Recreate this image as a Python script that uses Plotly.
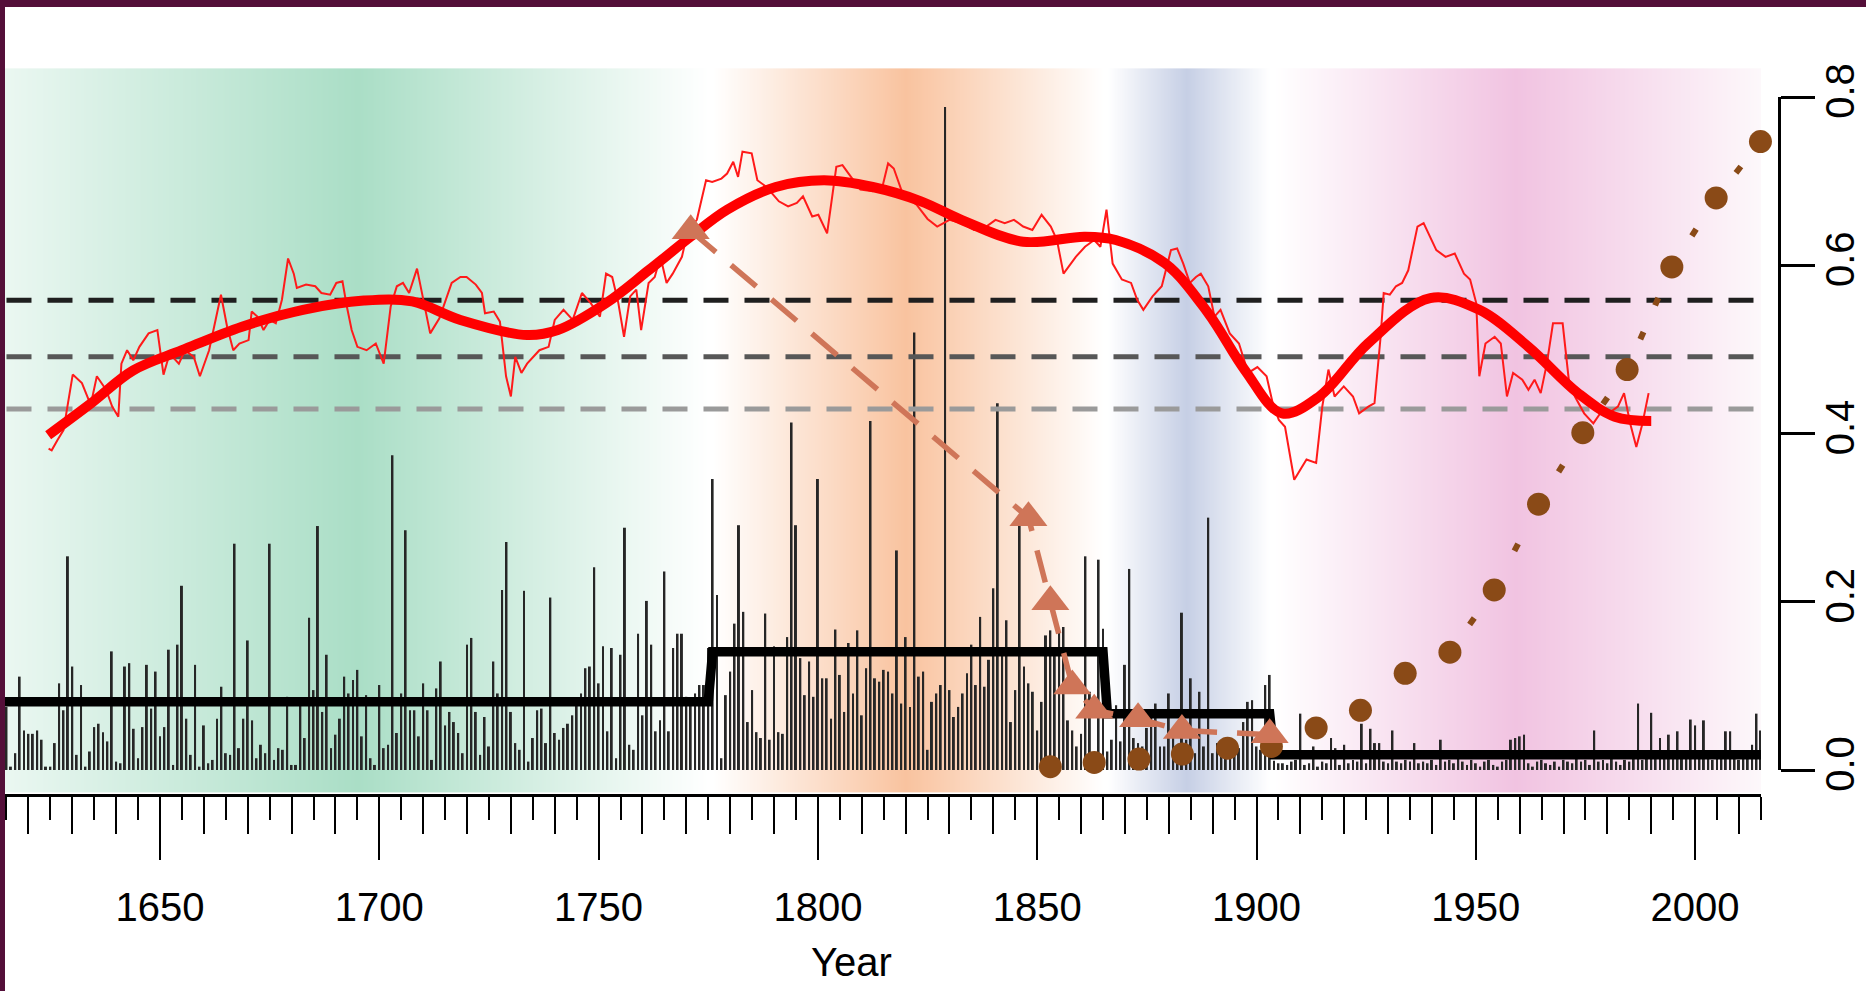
import numpy as np
import plotly.graph_objects as go

W, H = 1866, 991

# ---------------- data ----------------
years = list(range(1615, 2016))

spike_vals = [
    # 1615-1664
    0.075, 0.004, 0.020, 0.111, 0.047, 0.043, 0.043, 0.047, 0.036, 0.004,
    0.004, 0.032, 0.103, 0.071, 0.254, 0.123, 0.018, 0.101, 0.004, 0.022,
    0.051, 0.055, 0.045, 0.034, 0.141, 0.010, 0.008, 0.123, 0.127, 0.049,
    0.014, 0.051, 0.125, 0.073, 0.117, 0.040, 0.051, 0.143, 0.006, 0.149,
    0.219, 0.061, 0.018, 0.125, 0.004, 0.053, 0.008, 0.012, 0.061, 0.099,
    # 1665-1714
    0.020, 0.018, 0.269, 0.026, 0.061, 0.154, 0.059, 0.014, 0.030, 0.020,
    0.269, 0.012, 0.026, 0.024, 0.087, 0.006, 0.006, 0.083, 0.038, 0.181,
    0.095, 0.290, 0.069, 0.137, 0.026, 0.042, 0.061, 0.111, 0.091, 0.107,
    0.119, 0.040, 0.089, 0.014, 0.006, 0.101, 0.026, 0.030, 0.374, 0.044,
    0.091, 0.285, 0.071, 0.071, 0.040, 0.103, 0.071, 0.012, 0.097, 0.129,
    # 1715-1764
    0.053, 0.069, 0.057, 0.044, 0.020, 0.149, 0.157, 0.069, 0.018, 0.063,
    0.028, 0.129, 0.091, 0.214, 0.271, 0.069, 0.032, 0.024, 0.213, 0.010,
    0.038, 0.071, 0.073, 0.032, 0.205, 0.044, 0.036, 0.050, 0.055, 0.065,
    0.083, 0.091, 0.121, 0.123, 0.241, 0.103, 0.147, 0.046, 0.145, 0.014,
    0.137, 0.288, 0.030, 0.024, 0.162, 0.065, 0.201, 0.149, 0.046, 0.059,
    # 1765-1814
    0.236, 0.046, 0.145, 0.162, 0.162, 0.087, 0.085, 0.091, 0.101, 0.101,
    0.145, 0.346, 0.208, 0.014, 0.089, 0.117, 0.174, 0.291, 0.188, 0.057,
    0.095, 0.045, 0.038, 0.186, 0.036, 0.147, 0.045, 0.043, 0.158, 0.413,
    0.291, 0.133, 0.089, 0.129, 0.087, 0.346, 0.109, 0.109, 0.061, 0.167,
    0.113, 0.069, 0.151, 0.091, 0.166, 0.065, 0.121, 0.415, 0.109, 0.105,
    # 1815-1864
    0.119, 0.117, 0.091, 0.261, 0.079, 0.158, 0.075, 0.520, 0.111, 0.117,
    0.024, 0.081, 0.091, 0.101, 0.788, 0.095, 0.063, 0.075, 0.091, 0.115,
    0.149, 0.101, 0.182, 0.099, 0.131, 0.216, 0.436, 0.139, 0.178, 0.057,
    0.095, 0.300, 0.123, 0.103, 0.093, 0.047, 0.081, 0.160, 0.166, 0.143,
    0.166, 0.170, 0.059, 0.047, 0.028, 0.043, 0.254, 0.093, 0.020, 0.250,
    # 1865-1914
    0.168, 0.022, 0.036, 0.077, 0.034, 0.125, 0.239, 0.038, 0.032, 0.028,
    0.050, 0.065, 0.079, 0.028, 0.028, 0.091, 0.043, 0.026, 0.187, 0.036,
    0.109, 0.020, 0.093, 0.028, 0.300, 0.020, 0.032, 0.024, 0.020, 0.028,
    0.022, 0.026, 0.057, 0.081, 0.083, 0.028, 0.024, 0.101, 0.113, 0.011,
    0.008, 0.008, 0.006, 0.010, 0.012, 0.067, 0.006, 0.008, 0.028, 0.004,
    # 1915-1964
    0.010, 0.008, 0.038, 0.026, 0.006, 0.030, 0.008, 0.012, 0.010, 0.055,
    0.008, 0.049, 0.032, 0.032, 0.010, 0.008, 0.047, 0.010, 0.008, 0.012,
    0.010, 0.032, 0.008, 0.010, 0.008, 0.012, 0.006, 0.036, 0.010, 0.012,
    0.008, 0.014, 0.010, 0.006, 0.012, 0.008, 0.004, 0.010, 0.012, 0.006,
    0.004, 0.010, 0.012, 0.036, 0.038, 0.040, 0.042, 0.008, 0.004, 0.010,
    # 1965-2015
    0.012, 0.008, 0.006, 0.010, 0.004, 0.012, 0.010, 0.008, 0.014, 0.010,
    0.012, 0.006, 0.047, 0.010, 0.012, 0.008, 0.014, 0.010, 0.006, 0.012,
    0.010, 0.014, 0.079, 0.012, 0.016, 0.068, 0.014, 0.038, 0.016, 0.042,
    0.014, 0.046, 0.018, 0.014, 0.060, 0.053, 0.020, 0.059, 0.016, 0.012,
    0.018, 0.014, 0.046, 0.046, 0.016, 0.012, 0.018, 0.014, 0.030, 0.067,
    0.047,
]
assert len(spike_vals) == len(years)

thin_years = [
    1624.6, 1625.3, 1626.6, 1628.0, 1630.1, 1632.2, 1634.2, 1635.6, 1637.7, 1639.1,
    1640.5, 1641.2, 1642.5, 1643.9, 1645.3, 1647.4, 1649.4, 1650.8, 1652.2, 1654.3,
    1655.7, 1657.7, 1659.1, 1661.2, 1663.9, 1665.3, 1666.7, 1668.1, 1670.2, 1670.9,
    1672.2, 1673.6, 1675.0, 1676.4, 1677.8, 1679.2, 1680.5, 1681.2, 1683.3, 1685.4,
    1686.8, 1688.8, 1690.2, 1691.6, 1692.6, 1693.7, 1695.0, 1697.1, 1699.2, 1701.0,
    1702.6, 1704.0, 1705.4, 1706.8, 1708.6, 1709.6, 1711.6, 1713.7, 1716.5, 1718.5,
    1719.9, 1722.0, 1723.4, 1724.1, 1726.1, 1727.5, 1728.9, 1730.0, 1731.0, 1732.4,
    1733.7, 1736.5, 1738.6, 1740.0, 1742.0, 1744.1, 1746.2, 1748.2, 1750.3, 1751.7,
    1753.1, 1754.5, 1755.8, 1757.2, 1758.6, 1759.7, 1761.4, 1762.8, 1764.1, 1765.5,
    1766.9, 1769.0, 1770.4, 1772.4, 1774.5, 1775.9, 1778.0, 1779.3, 1780.7, 1781.8,
    1782.8, 1784.9, 1786.2, 1788.3, 1791.1, 1793.2, 1795.2, 1796.6, 1798.7, 1800.1,
    1802.1, 1804.2, 1805.6, 1807.0, 1809.7, 1812.5, 1814.6, 1816.0, 1817.3, 1819.4,
    1822.5, 1825.0, 1827.2, 1830.0, 1832.8, 1835.6, 1838.4, 1840.5, 1842.6, 1844.7,
    1846.8, 1848.9, 1851.0, 1853.1, 1854.5, 1856.0, 1858.8, 1860.9, 1863.0, 1864.4,
    1865.8, 1867.2, 1869.3, 1871.4, 1872.8, 1874.2, 1876.3, 1878.4, 1880.5, 1881.9,
    1883.3, 1884.8, 1886.2, 1887.3, 1889.0, 1890.4, 1891.8, 1893.9, 1896.0, 1898.1,
    1900.2, 1902.3, 1903.7, 1905.1, 1906.5, 1908.6, 1911.4, 1913.6, 1915.0, 1916.4,
    1917.8, 1919.9, 1922.0, 1923.4, 1925.5, 1926.9, 1928.3, 1929.0, 1930.4, 1931.8,
    1933.2, 1934.6, 1936.7, 1938.1, 1939.5, 1941.0, 1943.1, 1945.2, 1947.3, 1948.7,
    1950.1, 1950.8, 1952.2, 1954.3, 1955.7, 1957.1, 1958.5, 1960.6, 1962.0, 1963.4,
    1964.8, 1966.2, 1967.6, 1969.8, 1971.2, 1972.6, 1974.7, 1976.8, 1978.9, 1980.3,
    1982.4, 1983.8, 1985.2, 1986.6, 1988.0, 1989.4,
]
thin_vals = [
    0.382, 0.380, 0.392, 0.404, 0.470, 0.460, 0.434, 0.468, 0.452, 0.432,
    0.420, 0.483, 0.499, 0.487, 0.503, 0.519, 0.523, 0.470, 0.495, 0.483,
    0.499, 0.491, 0.468, 0.499, 0.565, 0.527, 0.499, 0.507, 0.511, 0.545,
    0.539, 0.523, 0.535, 0.531, 0.559, 0.608, 0.590, 0.573, 0.577, 0.575,
    0.567, 0.565, 0.579, 0.581, 0.551, 0.523, 0.503, 0.499, 0.507, 0.483,
    0.551, 0.575, 0.579, 0.567, 0.596, 0.571, 0.519, 0.537, 0.579, 0.586,
    0.586, 0.577, 0.567, 0.543, 0.545, 0.533, 0.468, 0.444, 0.491, 0.472,
    0.483, 0.499, 0.503, 0.535, 0.547, 0.535, 0.567, 0.555, 0.539, 0.590,
    0.586, 0.555, 0.515, 0.563, 0.571, 0.523, 0.579, 0.586, 0.610, 0.579,
    0.590, 0.610, 0.642, 0.654, 0.701, 0.699, 0.703, 0.709, 0.723, 0.705,
    0.735, 0.733, 0.701, 0.693, 0.676, 0.670, 0.674, 0.682, 0.658, 0.660,
    0.638, 0.717, 0.719, 0.709, 0.690, 0.688, 0.691, 0.721, 0.715, 0.684,
    0.672, 0.655, 0.646, 0.654, 0.650, 0.642, 0.646, 0.654, 0.650, 0.654,
    0.646, 0.642, 0.660, 0.646, 0.630, 0.590, 0.610, 0.622, 0.630, 0.622,
    0.666, 0.602, 0.583, 0.579, 0.559, 0.547, 0.563, 0.575, 0.618, 0.620,
    0.602, 0.579, 0.586, 0.590, 0.575, 0.539, 0.547, 0.519, 0.507, 0.472,
    0.479, 0.468, 0.436, 0.416, 0.408, 0.345, 0.369, 0.365, 0.432, 0.476,
    0.444, 0.456, 0.444, 0.424, 0.432, 0.436, 0.515, 0.567, 0.565, 0.575,
    0.579, 0.594, 0.646, 0.650, 0.634, 0.618, 0.610, 0.614, 0.590, 0.583,
    0.555, 0.468, 0.507, 0.515, 0.507, 0.444, 0.472, 0.464, 0.452, 0.464,
    0.448, 0.483, 0.531, 0.531, 0.464, 0.444, 0.424, 0.412, 0.428, 0.424,
    0.432, 0.448, 0.412, 0.384, 0.412, 0.448,
]

smooth_years = [
    1624.5, 1634.3, 1643.9, 1655.0, 1668.7, 1682.6, 1696.5, 1707.5, 1718.5, 1733.7,
    1740.7, 1751.7, 1761.4, 1771.0, 1779.3, 1790.4, 1801.4, 1812.5, 1823.5, 1832.7,
    1846.8, 1860.8, 1867.9, 1879.2, 1889.0, 1897.4, 1905.8, 1914.3, 1925.4, 1939.6,
    1950.8, 1962.0, 1973.3, 1981.7, 1990.0,
]
smooth_vals = [
    0.398, 0.436, 0.475, 0.499, 0.527, 0.547, 0.558, 0.557, 0.535, 0.517,
    0.523, 0.555, 0.594, 0.634, 0.666, 0.693, 0.701, 0.693, 0.676, 0.654,
    0.628, 0.634, 0.630, 0.602, 0.543, 0.475, 0.424, 0.444, 0.507, 0.561,
    0.547, 0.503, 0.448, 0.420, 0.415,
]

step_years = [1614, 1775, 1776, 1865, 1866, 1903, 1904, 2015]
step_vals = [0.081, 0.081, 0.1406, 0.1406, 0.067, 0.067, 0.018, 0.018]

ref_levels = [0.5584, 0.4913, 0.4291]

tri_years = [1771, 1848, 1853, 1858, 1863, 1873, 1883, 1903]
tri_vals = [0.641, 0.300, 0.200, 0.100, 0.071, 0.061, 0.047, 0.042]

dot_years = [1853.0, 1863.0, 1873.2, 1883.1, 1893.4, 1903.4, 1913.6, 1923.7, 1933.9,
             1944.1, 1954.2, 1964.3, 1974.4, 1984.5, 1994.7, 2004.8, 2014.9]
dot_vals = [0.004, 0.009, 0.013, 0.019, 0.026, 0.028, 0.050, 0.071, 0.115,
            0.140, 0.214, 0.316, 0.401, 0.476, 0.598, 0.680, 0.747]

# background period shading: (year, hue, strength of the hue over white)
bg_years = [1615, 1695, 1775, 1776, 1820, 1865, 1866, 1884, 1903, 1904, 1959, 2015]
bg_hues = ["#AADEC6", "#AADEC6", "#AADEC6", "#F9C39F", "#F9C39F", "#F9C39F",
           "#C6CFE5", "#C6CFE5", "#C6CFE5", "#F1C3E1", "#F1C3E1", "#F1C3E1"]
bg_strength = [0.25, 1.0, 0.0, 0.0, 1.0, 0.0, 0.0, 1.0, 0.0, 0.0, 1.0, 0.12]

x_major = [1650, 1700, 1750, 1800, 1850, 1900, 1950, 2000]
y_ticks = [0.0, 0.2, 0.4, 0.6, 0.8]

# ---------------- geometry ----------------
PX_PER_YEAR = 4.386
PX_PER_UNIT = 841.25
YEAR_AT_160 = 1650
ZERO_ROW = 770          # pixel row of value 0
LEFT_PX = 5
x_lo = YEAR_AT_160 - (160 - LEFT_PX) / PX_PER_YEAR
x_hi = 2015.0
right_px = 160 + (x_hi - YEAR_AT_160) * PX_PER_YEAR
y_lo = (ZERO_ROW - H) / PX_PER_UNIT
y_hi = ZERO_ROW / PX_PER_UNIT
AXIS_ROW = 795          # pixel row of the year axis line
RIGHT_AXIS_COL = 1779

FONT = "Liberation Sans, Arial, Helvetica, sans-serif"
BROWN = "#8A4A17"
SALMON = "#CF7558"


def blend(hex_color, a):
    r, g, b = (int(hex_color[i:i + 2], 16) for i in (1, 3, 5))
    mix = [round(255 - a * (255 - c)) for c in (r, g, b)]
    return "rgb({},{},{})".format(*mix)


fig = go.Figure()

# shaded periods behind everything
span = bg_years[-1] - bg_years[0]
colorscale = [[(yr - bg_years[0]) / span, blend(c, a)]
              for yr, c, a in zip(bg_years, bg_hues, bg_strength)]
bg_x = np.arange(1614, 2017, 0.5)
fig.add_trace(go.Heatmap(
    x=bg_x, y=[-0.027, 0.40, 0.834], z=[bg_x, bg_x],
    zmin=bg_years[0], zmax=bg_years[-1], colorscale=colorscale,
    zsmooth="best", showscale=False, hoverinfo="skip",
))

# annual spikes
fig.add_trace(go.Bar(
    x=years, y=spike_vals, width=0.45,
    marker=dict(color="#262626", line=dict(width=0)), hoverinfo="skip",
))

# reference levels
for lvl, col in zip(ref_levels, ["#1f1f1f", "#575757", "#9a9a9a"]):
    fig.add_trace(go.Scatter(
        x=[years[0], years[-1]], y=[lvl, lvl], mode="lines",
        line=dict(color=col, width=5, dash="25px,16px"), hoverinfo="skip",
    ))

# regime means
fig.add_trace(go.Scatter(
    x=step_years, y=step_vals, mode="lines",
    line=dict(color="black", width=9.5), hoverinfo="skip",
))

# red series: raw and smoothed
fig.add_trace(go.Scatter(
    x=thin_years, y=thin_vals, mode="lines",
    line=dict(color="#FF1A1A", width=2), hoverinfo="skip",
))
fig.add_trace(go.Scatter(
    x=smooth_years, y=smooth_vals, mode="lines", line_shape="spline",
    line=dict(color="#FF0000", width=10), hoverinfo="skip",
))

# brown series: dotted connectors between consecutive points (gaps around points)
for i in range(len(dot_years) - 1):
    x0, x1 = dot_years[i], dot_years[i + 1]
    y0, y1 = dot_vals[i], dot_vals[i + 1]
    seg = float(np.hypot((x1 - x0) * PX_PER_YEAR, (y1 - y0) * PX_PER_UNIT))
    n = int((seg - 30) // 40)
    if n < 1:
        continue
    step = seg / (n + 1)
    parts = [0, step - 4]
    for k in range(n):
        parts += [8, (step - 8) if k < n - 1 else seg]
    dash = ",".join(f"{int(round(p))}px" for p in parts)
    fig.add_trace(go.Scatter(
        x=[x0, x1], y=[y0, y1], mode="lines",
        line=dict(color=BROWN, width=6, dash=dash), hoverinfo="skip",
    ))
fig.add_trace(go.Scatter(
    x=dot_years, y=dot_vals, mode="markers", cliponaxis=False,
    marker=dict(symbol="circle", size=23, color=BROWN, line=dict(width=0)),
    hoverinfo="skip",
))

# salmon series
fig.add_trace(go.Scatter(
    x=tri_years, y=tri_vals, mode="lines+markers", cliponaxis=False,
    line=dict(color=SALMON, width=5.5, dash="33px,20px"),
    marker=dict(symbol="triangle-up", size=33, color=SALMON, line=dict(width=0)),
    hoverinfo="skip",
))

# helpers that carry the extra axes
fig.add_trace(go.Scatter(x=[None], y=[None], xaxis="x2", yaxis="y", showlegend=False))
fig.add_trace(go.Scatter(x=[None], y=[None], xaxis="x", yaxis="y2", showlegend=False))

tick_font = dict(family=FONT, size=40, color="black")
x_dom = [LEFT_PX / W, right_px / W]
x_pos = (H - AXIS_ROW) / H

fig.update_layout(
    width=W, height=H,
    margin=dict(l=0, r=0, t=0, b=0, pad=0),
    paper_bgcolor="white", plot_bgcolor="rgba(0,0,0,0)",
    showlegend=False, hovermode=False,
    font=dict(family=FONT, color="black"),
    xaxis=dict(
        domain=x_dom, range=[x_lo, x_hi], anchor="free", position=x_pos,
        showgrid=False, zeroline=False, automargin=False,
        showline=True, linecolor="black", linewidth=2.5,
        ticks="outside", tickmode="array",
        tickvals=list(range(1620, 2016, 10)), ticklen=37, tickwidth=2.3,
        tickcolor="black", showticklabels=False,
        minor=dict(tickmode="array", tickvals=list(range(1615, 2016, 5)),
                   ticks="outside", ticklen=23, tickwidth=2.3,
                   tickcolor="black", showgrid=False),
    ),
    xaxis2=dict(
        overlaying="x", range=[x_lo, x_hi], anchor="free", position=x_pos,
        showgrid=False, zeroline=False, automargin=False, showline=False,
        ticks="outside", tickmode="array", tickvals=x_major,
        ticktext=[str(v) for v in x_major], ticklen=64, tickwidth=2.3,
        tickcolor="black", tickfont=tick_font, ticklabelstandoff=13,
    ),
    yaxis=dict(
        domain=[0, 1], range=[y_lo, y_hi], visible=False,
        showgrid=False, zeroline=False, fixedrange=True,
    ),
    yaxis2=dict(
        domain=[(H - ZERO_ROW) / H, (H - ZERO_ROW + 0.8 * PX_PER_UNIT) / H],
        range=[0, 0.8], anchor="free", position=RIGHT_AXIS_COL / W, side="right",
        showgrid=False, zeroline=False, automargin=False,
        showline=True, linecolor="black", linewidth=2.5,
        ticks="outside", tickmode="array", tickvals=y_ticks,
        ticktext=[f"{v:.1f}" for v in y_ticks], ticklen=34, tickwidth=2.5,
        tickcolor="black", tickangle=-90, tickfont=tick_font,
        ticklabelstandoff=-9,
    ),
    annotations=[dict(
        text="Year", xref="paper", yref="paper", x=851 / W, y=(H - 962) / H,
        xanchor="center", yanchor="middle", showarrow=False,
        font=dict(family=FONT, size=40, color="black"),
    )],
    shapes=[
        dict(type="rect", xref="paper", yref="paper", x0=0, x1=1,
             y0=1 - 7 / H, y1=1, fillcolor="#540F39", line=dict(width=0), layer="above"),
        dict(type="rect", xref="paper", yref="paper", x0=0, x1=LEFT_PX / W,
             y0=0, y1=1, fillcolor="#540F39", line=dict(width=0), layer="above"),
    ],
)

fig.write_html("out.html")
